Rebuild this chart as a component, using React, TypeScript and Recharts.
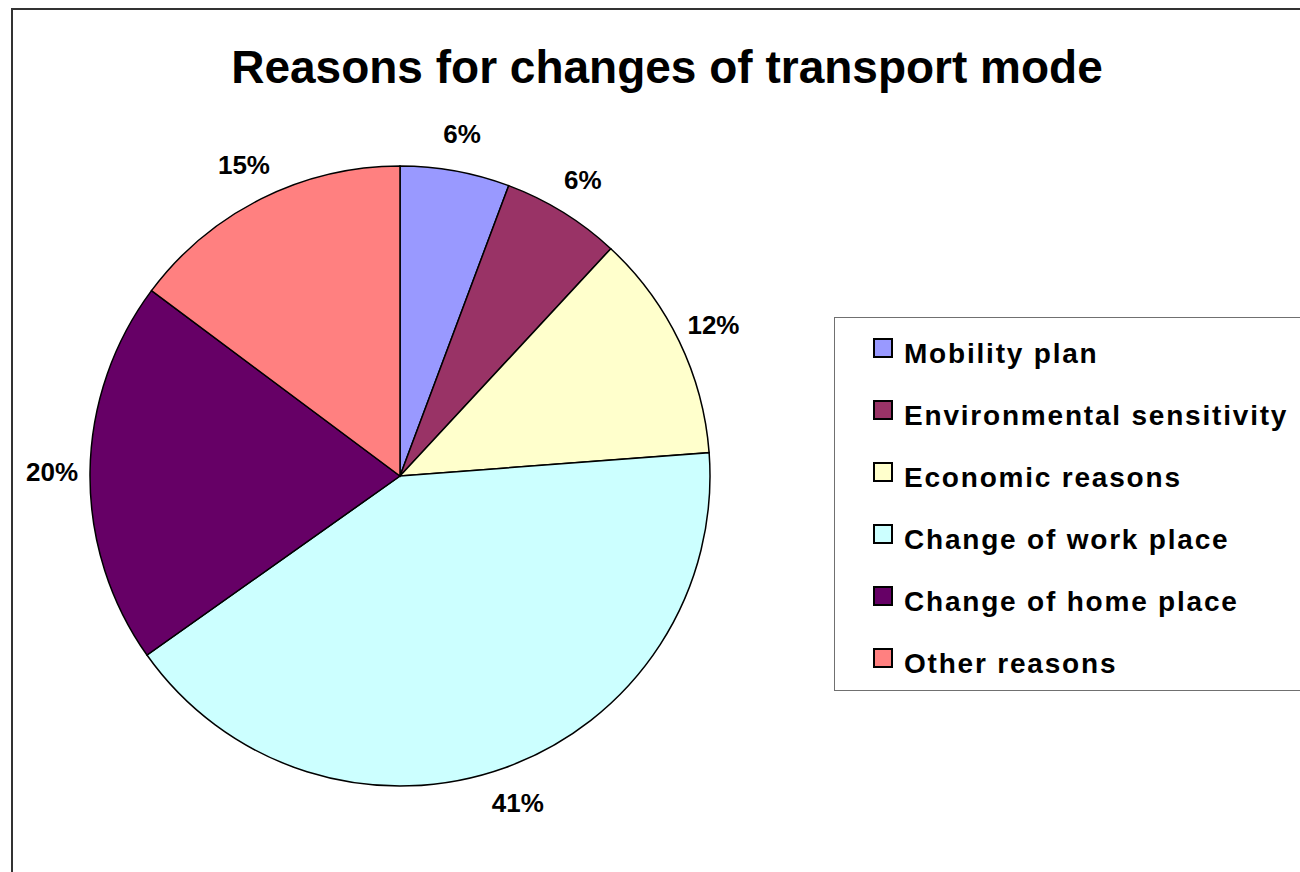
import { PieChart, Pie, Cell, Legend } from 'recharts';

const reasons = [
  'Mobility plan',
  'Environmental sensitivity',
  'Economic reasons',
  'Change of work place',
  'Change of home place',
  'Other reasons',
];
const shares = [5.7, 6.2, 11.9, 41.4, 20.0, 14.8];
const colors = ['#9999FF', '#993366', '#FFFFCC', '#CCFFFF', '#660066', '#FF8080'];

const data = reasons.map((name, i) => ({ name, value: shares[i] }));

const FONT = '"Liberation Sans", Arial, Helvetica, sans-serif';
const RADIAN = Math.PI / 180;

const renderLabel = ({ cx, cy, midAngle, outerRadius, percent }: any) => {
  const r = outerRadius + 38;
  const x = cx + r * Math.cos(-midAngle * RADIAN);
  const y = cy + r * Math.sin(-midAngle * RADIAN);
  return (
    <text
      x={x}
      y={y}
      textAnchor="middle"
      dominantBaseline="central"
      fontFamily={FONT}
      fontWeight="bold"
      fontSize={26}
      fill="#000"
    >
      {Math.round(percent * 100)}%
    </text>
  );
};

// legend drawn as svg inside the legend wrapper (wrapper sits at page 820,300)
const renderLegend = ({ payload }: any) => {
  const items = [...(payload || [])].sort(
    (a: any, b: any) => reasons.indexOf(a.value) - reasons.indexOf(b.value)
  );
  return (
    <svg width={480} height={400} style={{ display: 'block' }}>
      <rect x={14.5} y={17.5} width={500} height={373} fill="#fff" stroke="#707070" strokeWidth={1} />
      {items.map((entry: any, i: number) => (
        <g key={entry.value}>
          <rect x={54} y={39 + i * 62} width={18} height={18} fill={entry.color} stroke="#000" strokeWidth={2} />
          <text
            x={84}
            y={63 + i * 62}
            fontFamily={FONT}
            fontWeight="bold"
            fontSize={28}
            letterSpacing={1.8}
            fill="#000"
          >
            {entry.value}
          </text>
        </g>
      ))}
    </svg>
  );
};

export default function App() {
  return (
    <div
      style={{
        position: 'fixed',
        left: 0,
        top: 0,
        width: 1300,
        height: 872,
        overflow: 'hidden',
        background: '#fff',
        fontFamily: FONT,
      }}
    >
      <div
        style={{
          position: 'absolute',
          left: 11,
          top: 8,
          width: 1400,
          height: 1000,
          borderTop: '2px solid #333',
          borderLeft: '2px solid #333',
        }}
      />
      <div style={{ position: 'absolute', left: 0, top: 0 }}>
        <PieChart width={1300} height={872} margin={{ top: 0, right: 0, bottom: 0, left: 0 }}>
          <Pie
            data={data}
            dataKey="value"
            nameKey="name"
            cx={400}
            cy={476}
            outerRadius={310}
            startAngle={90}
            endAngle={-270}
            stroke="#000"
            strokeWidth={1.5}
            label={renderLabel}
            labelLine={false}
            isAnimationActive={false}
          >
            {data.map((d, i) => (
              <Cell key={d.name} fill={colors[i]} />
            ))}
          </Pie>
          <Legend
            layout="vertical"
            align="right"
            verticalAlign="middle"
            content={renderLegend}
            wrapperStyle={{ position: 'absolute', left: 820, top: 300, width: 480, height: 400 }}
          />
        </PieChart>
      </div>
      <svg
        width={1300}
        height={872}
        style={{ position: 'absolute', left: 0, top: 0, pointerEvents: 'none' }}
      >
        <text
          x={667}
          y={83}
          textAnchor="middle"
          fontFamily={FONT}
          fontWeight="bold"
          fontSize={46}
          fill="#000"
        >
          Reasons for changes of transport mode
        </text>
      </svg>
    </div>
  );
}
